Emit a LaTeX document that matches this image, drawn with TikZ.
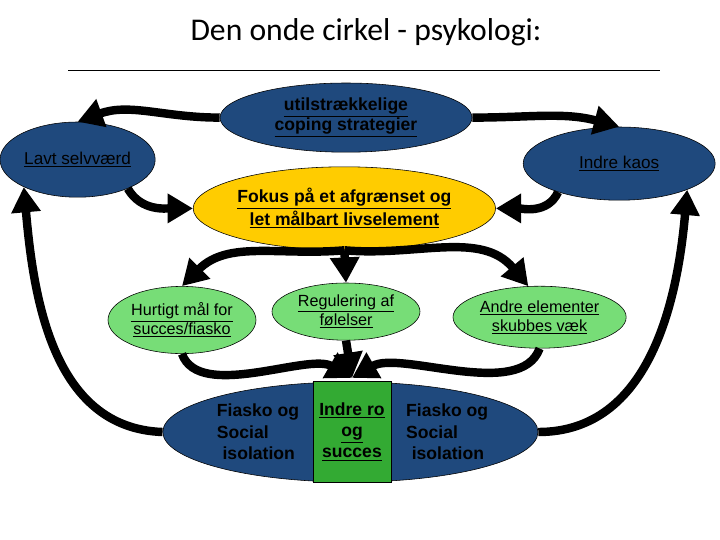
\documentclass[tikz,border=0pt]{standalone}
\usepackage{fontspec}
\usepackage{tikz}
\setmainfont{Liberation Sans}
\newfontfamily\titlefont{Carlito}
\usetikzlibrary{shapes.geometric,arrows.meta}
\definecolor{darkblue}{RGB}{31,73,125}
\definecolor{gold}{RGB}{255,204,0}
\definecolor{lightgreen}{RGB}{119,221,119}
\definecolor{midgreen}{RGB}{51,170,51}
\newcommand{\ulw}[1]{\underline{#1}}

\begin{document}
\begin{tikzpicture}[
            bubble/.style={ellipse, draw=black, line width=0.4pt, inner sep=0pt, align=center},
            cyclearrow/.style={line width=6pt, -{Triangle[length=18pt,width=20pt]}}
        ]
            \useasboundingbox (0,0) rectangle (18,-13.5);

            %title
            \node[font=\titlefont\fontsize{22.5}{27}\selectfont] (title) at (9.15,-0.8) {Den onde cirkel - psykologi:};
            \draw[line width=0.5pt] (1.7,-1.75) -- (16.5,-1.75);

            %ellipses
            \node[bubble, fill=darkblue, minimum width=6.3cm, minimum height=1.73cm,
                  font=\bfseries\fontsize{12.5}{14.2}\selectfont] (coping) at (8.65,-2.94)
                  {\ulw{utilstrækkelige}\\\ulw{coping strategier}};
            \node[bubble, fill=darkblue, minimum width=3.88cm, minimum height=1.88cm,
                  font=\fontsize{12.2}{14}\selectfont] (selvvaerd) at (1.94,-3.99) {\ulw{Lavt selvværd}};
            \node[bubble, fill=darkblue, minimum width=4.8cm, minimum height=1.83cm,
                  font=\fontsize{12.2}{14}\selectfont] (kaos) at (15.48,-4.09) {\ulw{Indre kaos}};
            \node[bubble, fill=gold, minimum width=7.13cm, minimum height=2.08cm,
                  font=\bfseries\fontsize{12.5}{14.2}\selectfont] (fokus) at (8.61,-5.21)
                  {\ulw{Fokus på et afgrænset og}\\\ulw{let målbart livselement}};
            \node[bubble, fill=lightgreen, minimum width=3.7cm, minimum height=1.68cm,
                  font=\fontsize{11.5}{13.5}\selectfont] (hurtigt) at (4.55,-8.0)
                  {\ulw{Hurtigt mål for}\\\ulw{succes/fiasko}};
            \node[bubble, fill=lightgreen, minimum width=3.7cm, minimum height=1.43cm,
                  font=\fontsize{11.5}{13.5}\selectfont] (regulering) at (8.65,-7.79)
                  {\ulw{Regulering af}\\\ulw{følelser}};
            \node[bubble, fill=lightgreen, minimum width=4.33cm, minimum height=1.55cm,
                  font=\fontsize{11.5}{13.5}\selectfont] (andre) at (13.49,-7.93)
                  {\ulw{Andre elementer}\\\ulw{skubbes væk}};
            \node[bubble, fill=darkblue, minimum width=9.38cm, minimum height=2.5cm] (bund) at (8.76,-10.8) {};
            \node[draw=black, line width=0.4pt, fill=midgreen, minimum width=1.95cm, minimum height=2.53cm,
                  inner sep=0pt, align=center, font=\bfseries\fontsize{12.5}{15.2}\selectfont] (ro) at (8.8,-10.79)
                  {\ulw{Indre ro}\\\ulw{og}\\\ulw{succes}};
            \node[align=left, font=\bfseries\fontsize{12.5}{15.2}\selectfont] (fiaskoL) at (6.45,-10.8)
                  {Fiasko og\\Social\\\hspace*{4pt}isolation};
            \node[align=left, font=\bfseries\fontsize{12.5}{15.2}\selectfont] (fiaskoR) at (11.18,-10.8)
                  {Fiasko og\\Social\\\hspace*{4pt}isolation};
            \coordinate (meet) at ([yshift=2pt]ro.north);

            %arrows
            \draw[cyclearrow] (coping.west) to[out=180,in=20] (selvvaerd.north);
            \draw[cyclearrow] (coping.east) to[out=0,in=165] (kaos.north);
            \draw[cyclearrow] (selvvaerd.-30) to[out=-60,in=180] (fokus.west);
            \draw[cyclearrow] (kaos.-155) to[out=-115,in=0] (fokus.east);
            \draw[cyclearrow] (fokus.south) to[out=185,in=45] (hurtigt.north);
            \draw[cyclearrow] (fokus.south) -- (regulering.north);
            \draw[cyclearrow] (fokus.south) to[out=-5,in=130] (andre.110);
            \draw[cyclearrow] (hurtigt.south) to[out=-70,in=150,looseness=0.75] (meet);
            \draw[cyclearrow] (regulering.south) -- (meet);
            \draw[cyclearrow] (andre.south) to[out=-110,in=30,looseness=0.75] (meet);
            \draw[cyclearrow] (bund.west) to[out=178,in=-85] (selvvaerd.207);
            \draw[cyclearrow] (bund.east) to[out=0,in=-95] (kaos.-21);
\end{tikzpicture}
\end{document}
